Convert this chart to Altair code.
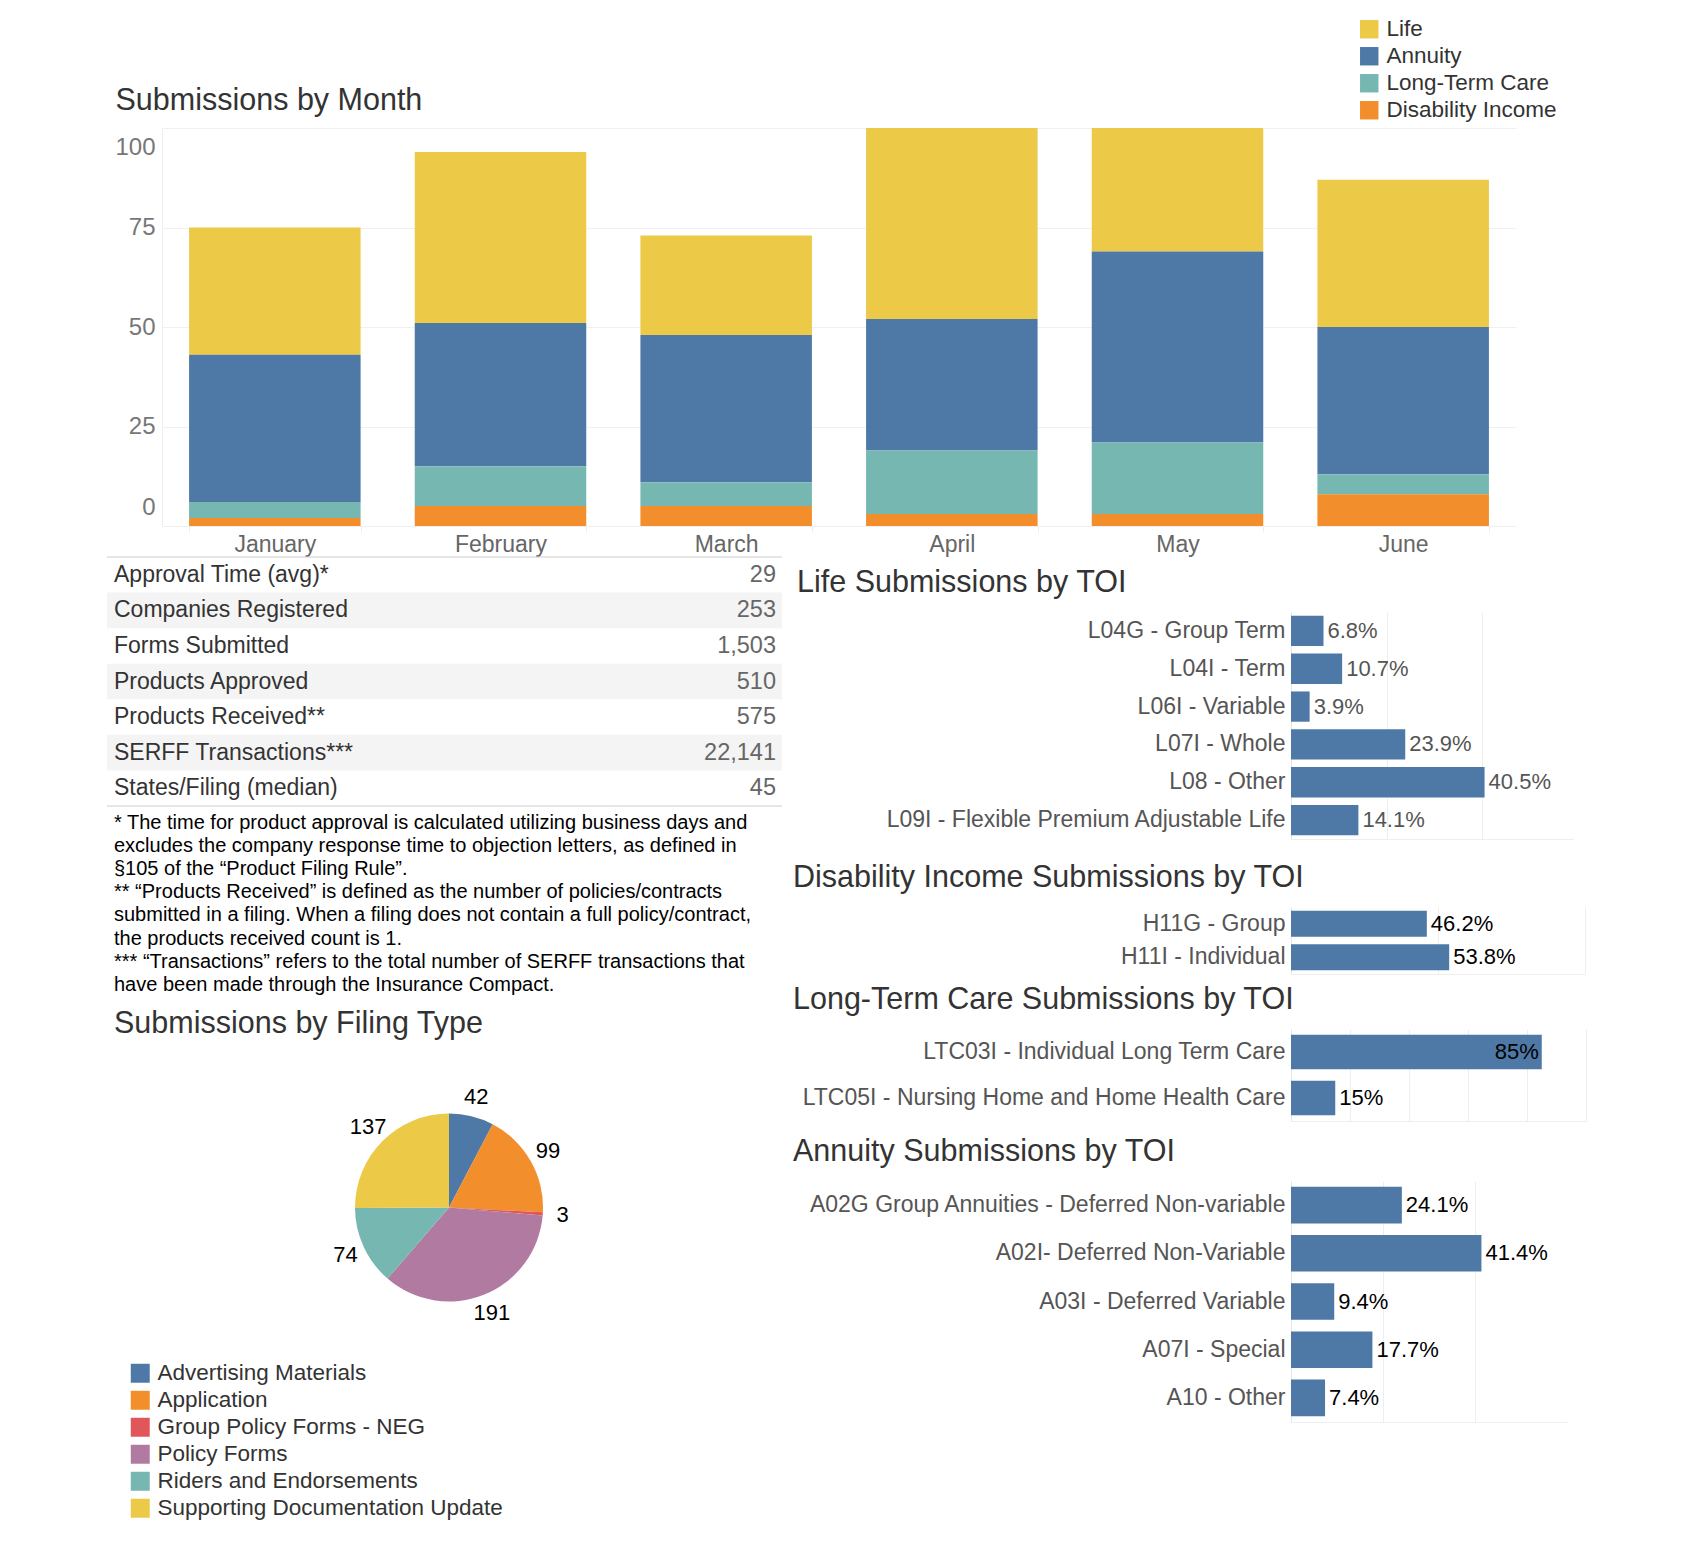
import altair as alt
import pandas as pd

FONT = "Liberation Sans"
TITLE_COLOR = "#333333"
TITLE_SIZE = 30.5
BLUE = "#4E79A7"

# ---------------- data ----------------
months = ["January", "February", "March", "April", "May", "June"]
series_names = ["Life", "Annuity", "Long-Term Care", "Disability Income"]
series_colors = ["#EDC948", "#4E79A7", "#76B7B2", "#F28E2B"]
life_counts = [32, 43, 25, 50, 32, 37]
annuity_counts = [37, 36, 37, 33, 48, 37]
ltc_counts = [4, 10, 6, 16, 18, 5]
di_counts = [2, 5, 5, 3, 3, 8]

stat_labels = ["Approval Time (avg)*", "Companies Registered", "Forms Submitted",
               "Products Approved", "Products Received**", "SERFF Transactions***",
               "States/Filing (median)"]
stat_values = [29, 253, 1503, 510, 575, 22141, 45]

footnote_lines = [
    "* The time for product approval is calculated utilizing business days and",
    "excludes the company response time to objection letters, as defined in",
    "\u00a7105 of the \u201cProduct Filing Rule\u201d.",
    "** \u201cProducts Received\u201d is defined as the number of policies/contracts",
    "submitted in a filing. When a filing does not contain a full policy/contract,",
    "the products received count is 1.",
    "*** \u201cTransactions\u201d refers to the total number of SERFF transactions that",
    "have been made through the Insurance Compact.",
]

filing_types = ["Advertising Materials", "Application", "Group Policy Forms - NEG",
                "Policy Forms", "Riders and Endorsements", "Supporting Documentation Update"]
filing_counts = [42, 99, 3, 191, 74, 137]
filing_colors = ["#4E79A7", "#F28E2B", "#E15759", "#B07AA1", "#76B7B2", "#EDC948"]

life_toi = ["L04G - Group Term", "L04I - Term", "L06I - Variable", "L07I - Whole",
            "L08 - Other", "L09I - Flexible Premium Adjustable Life"]
life_share = [0.068, 0.107, 0.039, 0.239, 0.405, 0.141]
di_toi = ["H11G - Group", "H11I - Individual"]
di_share = [0.462, 0.538]
ltc_toi = ["LTC03I - Individual Long Term Care", "LTC05I  - Nursing Home and Home Health Care"]
ltc_share = [0.85, 0.15]
ann_toi = ["A02G Group Annuities - Deferred Non-variable", "A02I- Deferred Non-Variable",
           "A03I - Deferred Variable", "A07I - Special", "A10 - Other"]
ann_share = [0.241, 0.414, 0.094, 0.177, 0.074]


def spacer(w, h):
    return alt.Chart(pd.DataFrame({"s": [0]})).mark_point(opacity=0, size=0).encode(
        x=alt.value(0), y=alt.value(0)).properties(width=w, height=h)


# ---------------- top stacked bar chart ----------------
rows = []
for k, (name, vals) in enumerate(zip(series_names,
                                     [life_counts, annuity_counts, ltc_counts, di_counts])):
    for m, v in zip(months, vals):
        rows.append({"month": m, "series": name, "count": v, "stack": 3 - k})
month_df = pd.DataFrame(rows)

top_chart = alt.Chart(month_df).mark_bar(clip=True).encode(
    x=alt.X("month:N", sort=months, title=None,
            scale=alt.Scale(paddingInner=0.24, paddingOuter=0.12),
            axis=alt.Axis(labelAngle=0, labelFont=FONT, labelFontSize=23, labelColor="#666666",
                          ticks=True, tickBand="extent", tickColor="#eeeeee", tickSize=6,
                          domain=False, labelPadding=1)),
    y=alt.Y("count:Q", stack="zero",
            scale=alt.Scale(domain=[0, 100], nice=False),
            axis=alt.Axis(values=[0, 25, 50, 75, 100], grid=True, gridColor="#f0f0f0",
                          domain=True, domainColor="#eeeeee", ticks=False,
                          labelFlush=True, labelFlushOffset=-7,
                          labelFont=FONT, labelFontSize=24, labelColor="#777777",
                          labelPadding=7, minExtent=47,
                          title="Submissions by Month", titleX=-47, titleY=-28,
                          titleAngle=0, titleAlign="left", titleBaseline="middle",
                          titleFont=FONT, titleFontSize=TITLE_SIZE, titleFontWeight="normal",
                          titleColor=TITLE_COLOR)),
    color=alt.Color("series:N", scale=alt.Scale(domain=series_names, range=series_colors),
                    legend=alt.Legend(orient="none", legendX=1251, legendY=-110,
                                      direction="vertical", title=None,
                                      symbolType="square", symbolSize=340,
                                      symbolStrokeWidth=0,
                                      labelFont=FONT, labelFontSize=22.5, labelColor="#333333",
                                      rowPadding=4, labelOffset=6, padding=0,
                                      labelLimit=500)),
    order=alt.Order("stack:Q", sort="ascending"),
).properties(width=1354, height=398)

row1 = alt.hconcat(spacer(1, 1), top_chart, spacing=6)

# ---------------- stats table ----------------
tbl_df = pd.DataFrame({"stat": stat_labels, "value": stat_values,
                       "row": list(range(len(stat_labels)))})
TW, TH = 675, 249
ty = alt.Y("stat:N", sort=stat_labels, axis=None,
           scale=alt.Scale(paddingInner=0, paddingOuter=0))
shade = alt.Chart(tbl_df).transform_filter("datum.row % 2 == 1").mark_rect(
    color="#f4f4f4").encode(y=ty)
top_line = alt.Chart(tbl_df).transform_filter("datum.row == 0").mark_rule(
    color="#cccccc").encode(y=alt.Y("stat:N", sort=stat_labels, bandPosition=0, axis=None))
bottom_line = alt.Chart(tbl_df).transform_filter(f"datum.row == {len(stat_labels) - 1}").mark_rule(
    color="#cccccc").encode(y=alt.Y("stat:N", sort=stat_labels, bandPosition=1, axis=None))
tbl_labels = alt.Chart(tbl_df).mark_text(align="left", baseline="middle", font=FONT,
                                         fontSize=23, color="#333333").encode(
    y=ty, x=alt.value(7), text="stat:N")
tbl_values = alt.Chart(tbl_df).mark_text(align="right", baseline="middle", font=FONT,
                                         fontSize=23.5, color="#666666").encode(
    y=ty, x=alt.value(TW - 6), text=alt.Text("value:Q", format=","))
table_chart = alt.layer(shade, top_line, bottom_line, tbl_labels, tbl_values).properties(
    width=TW, height=TH,
    title=alt.TitleParams(footnote_lines, orient="bottom", anchor="start", dx=7, offset=6,
                          frame="group",
                          fontSize=20, lineHeight=23.2, font=FONT, fontWeight="normal",
                          color="#000000"),
)

# ---------------- pie ----------------
pie_df = pd.DataFrame({"type": filing_types, "count": filing_counts,
                       "idx": list(range(len(filing_types)))})
pie_base = alt.Chart(pie_df).encode(
    theta=alt.Theta("count:Q", stack=True),
    order=alt.Order("idx:Q", sort="ascending"),
)
arcs = pie_base.mark_arc(outerRadius=94).encode(
    color=alt.Color("type:N", scale=alt.Scale(domain=filing_types, range=filing_colors),
                    legend=alt.Legend(orient="none", legendX=22, legendY=319,
                                      direction="vertical", title=None,
                                      symbolType="square", symbolSize=360,
                                      symbolStrokeWidth=0, labelFont=FONT,
                                      labelFontSize=22.5, labelColor="#333333",
                                      rowPadding=4, labelOffset=6, padding=0,
                                      labelLimit=600)))
pie_labels = pie_base.mark_text(radius=114, font=FONT, fontSize=22, color="#000000").encode(
    text=alt.Text("count:Q"))
pie_chart = alt.layer(arcs, pie_labels).properties(
    width=684, height=329,
    title=alt.TitleParams("Submissions by Filing Type", anchor="start", dx=7, offset=4,
                          frame="group",
                          fontSize=TITLE_SIZE, font=FONT, fontWeight="normal",
                          color=TITLE_COLOR),
)


# ---------------- TOI bar charts ----------------
def toi_chart(title, cats, shares, width, height, xmax, grid_vals, pad_in, fmt,
              pct_color, title_dx, inside_cut=None):
    df = pd.DataFrame({"toi": cats, "share": shares})
    xenc = alt.X("share:Q", title=None, scale=alt.Scale(domain=[0, xmax], nice=False),
                 axis=alt.Axis(values=grid_vals, labels=False, ticks=False, domain=True,
                               domainColor="#eeeeee", grid=True, gridColor="#eeeeee"))
    yenc = alt.Y("toi:N", sort=cats, title=None,
                 scale=alt.Scale(paddingInner=pad_in, paddingOuter=pad_in / 2),
                 axis=alt.Axis(ticks=False, domain=True, domainColor="#e6e6e6",
                               labelFont=FONT, labelFontSize=23, labelColor="#555555",
                               labelPadding=6, labelLimit=800))
    bars = alt.Chart(df).mark_bar(color=BLUE).encode(x=xenc, y=yenc)
    cut = inside_cut if inside_cut is not None else 2
    outside = alt.Chart(df).transform_filter(f"datum.share < {cut}").mark_text(
        align="left", baseline="middle", dx=4, font=FONT, fontSize=22, color=pct_color).encode(
        x=xenc, y=yenc, text=alt.Text("share:Q", format=fmt))
    layers = [bars, outside]
    if inside_cut is not None:
        inside = alt.Chart(df).transform_filter(f"datum.share >= {cut}").mark_text(
            align="right", baseline="middle", dx=-3, font=FONT, fontSize=22,
            color="#000000").encode(x=xenc, y=yenc, text=alt.Text("share:Q", format=fmt))
        layers.append(inside)
    return alt.layer(*layers).properties(
        width=width, height=height,
        title=alt.TitleParams(title, anchor="start", dx=title_dx, offset=14,
                              fontSize=TITLE_SIZE, frame="group",
                              font=FONT, fontWeight="normal", color=TITLE_COLOR),
    )


life_chart = toi_chart("Life Submissions by TOI", life_toi, life_share, 282, 227, 0.59,
                       [0.2, 0.4], 0.2, ".1%", "#555555", -494)
di_chart = toi_chart("Disability Income Submissions by TOI", di_toi, di_share, 294, 67, 1.0,
                     [0.5, 1.0], 0.23, ".1%", "#000000", -498)
ltc_chart = toi_chart("Long-Term Care Submissions by TOI", ltc_toi, ltc_share, 295, 92, 1.0,
                      [0.2, 0.4, 0.6, 0.8, 1.0], 0.25, ".0%", "#000000", -498, inside_cut=0.5)
ann_chart = toi_chart("Annuity Submissions by TOI", ann_toi, ann_share, 276, 241, 0.6,
                      [0.2, 0.4], 0.24, ".1%", "#000000", -498)

right_col = alt.vconcat(spacer(1, 10), life_chart, spacer(1, 23), di_chart, spacer(1, 10),
                        ltc_chart, spacer(1, 15), ann_chart, spacing=0)
left_col = alt.vconcat(table_chart, pie_chart, spacing=13).resolve_scale(color="independent")
row2 = alt.hconcat(left_col, right_col, spacing=2).resolve_scale(color="independent")

chart = alt.vconcat(row1, row2, spacing=0).resolve_scale(
    color="independent").properties(
    padding={"left": 98, "top": 10, "right": 5, "bottom": 5}
).configure(font=FONT).configure_view(strokeWidth=0)

chart.save("out.html", embed_options={"renderer": "svg", "actions": False})
